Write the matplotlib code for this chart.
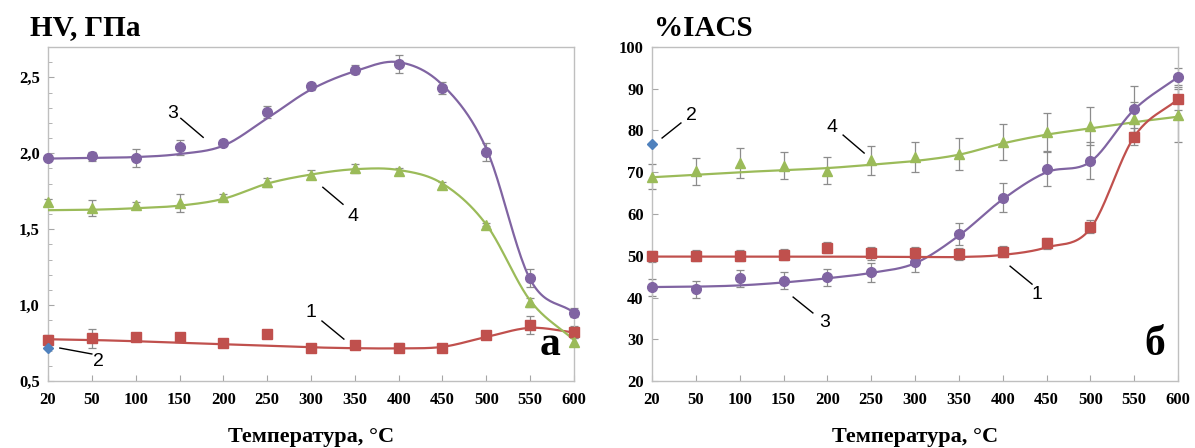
import matplotlib.pyplot as plt
from matplotlib.ticker import MultipleLocator
import numpy as np

# temperature categories (evenly spaced on the axis)
temps = ['20', '50', '100', '150', '200', '250', '300', '350', '400', '450', '500', '550', '600']

# --- panel a: HV, GPa ---
hv_1 = [0.77, 0.78, 0.79, 0.79, 0.75, 0.81, 0.72, 0.74, 0.72, 0.72, 0.80, 0.87, 0.82]
hv_1_err = [0.03, 0.06, 0.02, 0.01, 0.01, 0.01, 0.01, 0.01, 0.03, 0.01, 0.01, 0.06, 0.04]
hv_1_fit = [0.775, 0.77, 0.762, 0.752, 0.742, 0.732, 0.722, 0.716, 0.715, 0.725, 0.79, 0.85, 0.82]
hv_2 = 0.72
hv_3 = [1.97, 1.98, 1.97, 2.04, 2.07, 2.27, 2.44, 2.55, 2.59, 2.43, 2.01, 1.18, 0.95]
hv_3_err = [0.01, 0.03, 0.06, 0.05, 0.02, 0.04, 0.02, 0.03, 0.06, 0.04, 0.06, 0.06, 0.03]
hv_3_fit = [1.965, 1.97, 1.975, 1.995, 2.05, 2.23, 2.42, 2.54, 2.6, 2.45, 2.03, 1.17, 0.95]
hv_4 = [1.68, 1.64, 1.66, 1.67, 1.71, 1.81, 1.86, 1.90, 1.88, 1.79, 1.53, 1.02, 0.76]
hv_4_err = [0.02, 0.05, 0.02, 0.06, 0.02, 0.03, 0.03, 0.03, 0.02, 0.02, 0.01, 0.03, 0.02]
hv_4_fit = [1.625, 1.628, 1.638, 1.655, 1.70, 1.80, 1.86, 1.895, 1.89, 1.80, 1.53, 1.03, 0.77]

# --- panel b: %IACS ---
ec_1 = [49.9, 50.0, 50.0, 50.2, 51.9, 50.6, 50.6, 50.4, 51.0, 53.0, 57.0, 78.5, 87.5]
ec_1_err = [1.3, 1.3, 1.3, 1.3, 1.3, 1.5, 1.5, 1.5, 1.3, 1.3, 1.5, 2.0, 2.5]
ec_1_fit = [49.8, 49.8, 49.8, 49.8, 49.8, 49.75, 49.7, 49.7, 50.2, 52.0, 56.5, 78.5, 87.5]
ec_2 = 76.8
ec_3 = [42.4, 42.0, 44.6, 44.0, 44.8, 46.0, 48.4, 55.2, 63.9, 70.8, 72.8, 85.1, 92.9]
ec_3_err = [2.0, 2.0, 2.0, 2.0, 2.0, 2.2, 2.3, 2.7, 3.5, 4.0, 4.5, 5.5, 2.0]
ec_3_fit = [42.5, 42.6, 42.9, 43.6, 44.6, 45.9, 48.2, 54.8, 63.5, 70.0, 72.5, 85.0, 92.8]
ec_4 = [68.9, 70.2, 72.2, 71.6, 70.4, 72.9, 73.6, 74.4, 77.2, 79.6, 81.1, 82.8, 83.8]
ec_4_err = [3.0, 3.3, 3.5, 3.3, 3.3, 3.5, 3.6, 3.9, 4.3, 4.5, 4.6, 4.0, 6.5]
ec_4_fit = [68.8, 69.4, 70.0, 70.5, 71.0, 71.8, 72.7, 74.2, 76.9, 79.0, 80.5, 82.0, 83.3]

RED, BLUE, PURPLE, GREEN = '#C0504D', '#4F81BD', '#8064A2', '#9BBB59'
ERR = '#8c8c8c'
SERIF = 'Liberation Serif'


def smooth(y, n=24):
    # Catmull-Rom style smoothing through the points (like spreadsheet smoothed lines)
    y = np.asarray(y, float)
    m = np.gradient(y)
    t = np.linspace(0, 1, n, endpoint=False)
    h00, h10 = 2*t**3 - 3*t**2 + 1, t**3 - 2*t**2 + t
    h01, h11 = -2*t**3 + 3*t**2, t**3 - t**2
    xs, ys = [], []
    for i in range(len(y) - 1):
        xs.append(i + t)
        ys.append(h00*y[i] + h10*m[i] + h01*y[i+1] + h11*m[i+1])
    xs.append([len(y) - 1])
    ys.append([y[-1]])
    return np.concatenate(xs), np.concatenate(ys)


def series(ax, vals, err, fit, color, marker, ms):
    x = np.arange(len(vals))
    eb = ax.errorbar(x, vals, yerr=err, fmt='none', ecolor=ERR, elinewidth=0.9,
                     capsize=3, capthick=0.9, zorder=2)
    for art in eb.lines[1] + eb.lines[2]:
        art.set_clip_on(False)
    fx, fy = smooth(fit)
    ax.plot(fx, fy, color=color, lw=1.6, zorder=3)
    ax.plot(x, vals, ls='none', marker=marker, ms=ms, color=color, zorder=4, clip_on=False)


def label(ax, text, txy, start, end):
    ax.plot([start[0], end[0]], [start[1], end[1]], color='black', lw=1.0, zorder=5)
    ax.text(txy[0], txy[1], text, fontsize=14, family='Liberation Sans',
            ha='center', va='center', zorder=5)


def style(ax):
    ax.set_xlim(0, len(temps) - 1)
    ax.set_xticks(np.arange(len(temps)))
    ax.set_xticklabels(temps)
    for s in ax.spines.values():
        s.set_color('#bfbfbf')
        s.set_linewidth(1.0)
    ax.tick_params(direction='in', length=4, color='#a6a6a6', pad=8)
    ax.tick_params(which='minor', direction='in', length=3, color='#a6a6a6')
    for lab in ax.get_xticklabels() + ax.get_yticklabels():
        lab.set_fontfamily(SERIF)
        lab.set_fontweight('bold')
        lab.set_fontsize(12)
    ax.tick_params(axis='y', pad=6)


fig = plt.figure(figsize=(11.95, 4.48), dpi=100)
ax1 = fig.add_axes([48/1195, 1 - 381/448, 526/1195, 334/448])
ax2 = fig.add_axes([652/1195, 1 - 381/448, 526/1195, 334/448])

# panel a
series(ax1, hv_1, hv_1_err, hv_1_fit, RED, 's', 6.5)
series(ax1, hv_3, hv_3_err, hv_3_fit, PURPLE, 'o', 7)
series(ax1, hv_4, hv_4_err, hv_4_fit, GREEN, '^', 7.5)
ax1.plot([0], [hv_2], ls='none', marker='D', ms=5.5, color=BLUE, zorder=4, clip_on=False)
ax1.set_ylim(0.5, 2.7)
ax1.yaxis.set_major_locator(MultipleLocator(0.5))
ax1.yaxis.set_minor_locator(MultipleLocator(0.1))
ax1.yaxis.set_major_formatter(lambda v, p: f'{v:.1f}'.replace('.', ','))
style(ax1)
label(ax1, '3', (2.85, 2.26), (3.03, 2.23), (3.54, 2.105))
label(ax1, '4', (6.96, 1.585), (6.27, 1.776), (6.73, 1.664))
label(ax1, '1', (6.0, 0.954), (6.25, 0.895), (6.75, 0.776))
label(ax1, '2', (1.16, 0.63), (0.27, 0.717), (1.0, 0.678))
ax1.text(0.975, 0.05, 'а', transform=ax1.transAxes, ha='right', va='bottom',
         family=SERIF, fontweight='bold', fontsize=30)

# panel b
series(ax2, ec_4, ec_4_err, ec_4_fit, GREEN, '^', 7.5)
series(ax2, ec_3, ec_3_err, ec_3_fit, PURPLE, 'o', 7)
series(ax2, ec_1, ec_1_err, ec_1_fit, RED, 's', 6.5)
ax2.plot([0], [ec_2], ls='none', marker='D', ms=5.5, color=BLUE, zorder=4, clip_on=False)
ax2.set_ylim(20, 100)
ax2.yaxis.set_major_locator(MultipleLocator(10))
style(ax2)
label(ax2, '2', (0.89, 83.7), (0.23, 78.2), (0.66, 81.8))
label(ax2, '4', (4.1, 80.8), (4.36, 78.9), (4.84, 74.6))
label(ax2, '1', (8.78, 40.8), (8.17, 47.5), (8.67, 43.2))
label(ax2, '3', (3.95, 33.9), (3.22, 40.1), (3.67, 36.3))
ax2.text(0.975, 0.05, 'б', transform=ax2.transAxes, ha='right', va='bottom',
         family=SERIF, fontweight='bold', fontsize=30)

# titles and axis names
fig.text(30/1195, 1 - 28/448, 'HV, ГПа', family=SERIF, fontweight='bold',
         fontsize=21, ha='left', va='center')
fig.text(654/1195, 1 - 28/448, '%IACS', family=SERIF, fontweight='bold',
         fontsize=21, ha='left', va='center')
for ax in (ax1, ax2):
    b = ax.get_position()
    fig.text((b.x0 + b.x1) / 2, 1 - 437/448, 'Температура, °С', family=SERIF,
             fontweight='bold', fontsize=16, ha='center', va='center')

fig.savefig('out.png', dpi=100)
